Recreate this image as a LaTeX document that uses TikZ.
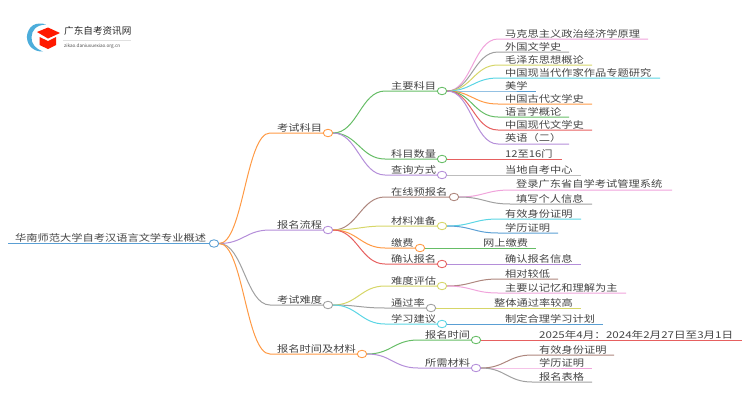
\documentclass[tikz,border=0pt]{standalone}
\usepackage{xcolor}
\usepackage{fontspec}
\setmainfont{Noto Sans CJK SC}
\usepackage{tikz}
\usetikzlibrary{shapes.geometric}
\definecolor{cblue}{HTML}{5A9FD4}
\definecolor{corange}{HTML}{FF9A45}
\definecolor{cgreen}{HTML}{66BD66}
\definecolor{cred}{HTML}{E66060}
\definecolor{cpurple}{HTML}{B48ED9}
\definecolor{cbrown}{HTML}{AD867D}
\definecolor{cpink}{HTML}{F0A3DB}
\definecolor{cgray}{HTML}{A0A0A0}
\definecolor{colive}{HTML}{D6D668}
\definecolor{ccyan}{HTML}{5AD5E4}
\definecolor{ctext}{HTML}{444444}
\tikzset{
    lab/.style={anchor=south west, inner sep=0pt, text=ctext, font=\fontsize{10.4}{11}\selectfont, xscale=1.08, yscale=.9, transform shape},
    dot/.style={draw=#1, fill=white, ellipse, line width=.9pt, minimum width=9.5pt, minimum height=7.5pt, inner sep=0pt},
    wire/.style={draw=#1, line width=1pt},
    sbend/.style={to path={.. controls +(#1,0) and +(-#1,0) .. (\tikztotarget)}},
    sbend/.default=24
}
\begin{document}
\begin{tikzpicture}[x=1pt,y=-1pt]
    \useasboundingbox (0,0) rectangle (750,410);

    % logo
    \fill[cblue!85!cyan] (40.5,23.5) .. controls (28,23) and (26.5,36) .. (27,38) .. controls (27.5,46) and (34,52) .. (43,51.5) .. controls (36,49) and (31,44) .. (31.5,37) .. controls (32,30) and (36,25) .. (46,24.5) .. controls (44,23.7) and (42,23.5) .. (40.5,23.5) -- cycle;
    \fill[red!80!orange] (37,32) -- (48,27.5) -- (60,33) -- (48,38.5) -- cycle;
    \fill[red!80!orange] (39.5,37) -- (48,41) -- (56,37) -- (56,45) -- (48,49) -- (39.5,45) -- cycle;
    \node[anchor=west, inner sep=0pt, text=black!85, font=\fontsize{9.6}{10}\selectfont] (brand) at (64,31) {广东自考资讯网};
    \coordinate (brandl) at (63,40.5);
    \coordinate (brandr) at (131,40.5);
    \draw[black!12, line width=.5pt] (brandl) -- (brandr);
    \node[anchor=west, inner sep=0pt, text=black!70, font=\fontsize{4.6}{5}\selectfont] (site) at (64,46.5) {zikao.daniuxuexiao.org.cn};

    % root
    \node[dot=cblue] (root) at (214,243.5) {};
    \coordinate (roote) at (8,243.5);
    \draw[wire=cblue] (roote) -- (root);
    \node[lab] (roott) at (15,242) {华南师范大学自考汉语言文学专业概述};

    % first level
    \node[dot=corange] (kemu) at (328,133) {};
    \node[dot=cpurple] (liucheng) at (328,230) {};
    \node[dot=cgray] (nandu) at (328,305) {};
    \node[dot=corange] (shijian) at (362,354) {};
    \coordinate (kemus) at (270,133);
    \coordinate (liuchengs) at (270,230);
    \coordinate (nandus) at (270,305);
    \coordinate (shijians) at (270,354);
    \draw[wire=corange] (root.east) to[sbend] (kemus) -- (kemu);
    \draw[wire=cpurple] (root.east) to[sbend] (liuchengs) -- (liucheng);
    \draw[wire=cgray] (root.east) to[sbend] (nandus) -- (nandu);
    \draw[wire=corange] (root.east) to[sbend] (shijians) -- (shijian);
    \node[lab] (kemut) at (277,132) {考试科目};
    \node[lab] (liuchengt) at (277,229) {报名流程};
    \node[lab] (nandut) at (277,304) {考试难度};
    \node[lab] (shijiant) at (277,353) {报名时间及材料};

    % second level
    \node[dot=cgreen] (zhuyao) at (442,91) {};
    \node[dot=cgreen] (shuliang) at (442,159) {};
    \node[dot=cpurple] (chaxun) at (442,175) {};
    \coordinate (zhuyaos) at (385,91);
    \coordinate (shuliangs) at (385,159);
    \coordinate (chaxuns) at (385,175);
    \draw[wire=cgreen] (kemu.east) to[sbend] (zhuyaos) -- (zhuyao);
    \draw[wire=cgreen] (kemu.east) to[sbend] (shuliangs) -- (shuliang);
    \draw[wire=cpurple] (kemu.east) to[sbend] (chaxuns) -- (chaxun);
    \node[lab] (zhuyaot) at (391,90) {主要科目};
    \node[lab] (shuliangt) at (391,158) {科目数量};
    \node[lab] (chaxunt) at (391,174) {查询方式};

    \node[dot=cbrown] (zaixian) at (454,197) {};
    \node[dot=colive] (cailiao) at (442,226) {};
    \node[dot=corange] (jiaofei) at (420,248) {};
    \node[dot=cred] (queren) at (442,264) {};
    \coordinate (zaixians) at (385,197);
    \coordinate (cailiaos) at (385,226);
    \coordinate (jiaofeis) at (385,248);
    \coordinate (querens) at (385,264);
    \draw[wire=cbrown] (liucheng.east) to[sbend] (zaixians) -- (zaixian);
    \draw[wire=colive] (liucheng.east) to[sbend] (cailiaos) -- (cailiao);
    \draw[wire=corange] (liucheng.east) to[sbend] (jiaofeis) -- (jiaofei);
    \draw[wire=cred] (liucheng.east) to[sbend] (querens) -- (queren);
    \node[lab] (zaixiant) at (391,196) {在线预报名};
    \node[lab] (cailiaot) at (391,225) {材料准备};
    \node[lab] (jiaofeit) at (391,247) {缴费};
    \node[lab] (querent) at (391,263) {确认报名};

    \node[dot=colive] (pinggu) at (442,286) {};
    \node[dot=cgray] (tongguo) at (431,308) {};
    \node[dot=ccyan] (jianyi) at (442,324) {};
    \coordinate (pinggus) at (385,286);
    \coordinate (tongguos) at (385,308);
    \coordinate (jianyis) at (385,324);
    \draw[wire=colive] (nandu.east) to[sbend] (pinggus) -- (pinggu);
    \draw[wire=cgray] (nandu.east) to[sbend] (tongguos) -- (tongguo);
    \draw[wire=ccyan] (nandu.east) to[sbend] (jianyis) -- (jianyi);
    \node[lab] (pinggut) at (391,285) {难度评估};
    \node[lab] (tongguot) at (391,307) {通过率};
    \node[lab] (jianyit) at (391,323) {学习建议};

    \node[dot=cgreen] (baoming) at (476,340) {};
    \node[dot=cpurple] (suoxu) at (476,368) {};
    \coordinate (baomings) at (418,340);
    \coordinate (suoxus) at (418,368);
    \draw[wire=cgreen] (shijian.east) to[sbend] (baomings) -- (baoming);
    \draw[wire=cpurple] (shijian.east) to[sbend] (suoxus) -- (suoxu);
    \node[lab] (baomingt) at (425,339) {报名时间};
    \node[lab] (suoxut) at (425,367) {所需材料};

    % leaves of zhuyao
    \coordinate (a1) at (498,39);  \coordinate (a1e) at (648,39);
    \coordinate (a2) at (498,52);  \coordinate (a2e) at (569,52);
    \coordinate (a3) at (498,65);  \coordinate (a3e) at (592,65);
    \coordinate (a4) at (498,78);  \coordinate (a4e) at (660,78);
    \coordinate (a5) at (498,91);  \coordinate (a5e) at (536,91);
    \coordinate (a6) at (498,104); \coordinate (a6e) at (592,104);
    \coordinate (a7) at (498,117); \coordinate (a7e) at (569,117);
    \coordinate (a8) at (498,130); \coordinate (a8e) at (592,130);
    \coordinate (a9) at (498,144); \coordinate (a9e) at (569,144);
    \draw[wire=cpink] (zhuyao.east) to[sbend] (a1) -- (a1e);
    \draw[wire=cgray] (zhuyao.east) to[sbend] (a2) -- (a2e);
    \draw[wire=colive] (zhuyao.east) to[sbend] (a3) -- (a3e);
    \draw[wire=ccyan] (zhuyao.east) to[sbend] (a4) -- (a4e);
    \draw[wire=cblue] (zhuyao.east) -- (a5) -- (a5e);
    \draw[wire=corange] (zhuyao.east) to[sbend] (a6) -- (a6e);
    \draw[wire=cgreen] (zhuyao.east) to[sbend] (a7) -- (a7e);
    \draw[wire=cred] (zhuyao.east) to[sbend] (a8) -- (a8e);
    \draw[wire=cpurple] (zhuyao.east) to[sbend] (a9) -- (a9e);
    \node[lab] (a1t) at (505,38) {马克思主义政治经济学原理};
    \node[lab] (a2t) at (505,51) {外国文学史};
    \node[lab] (a3t) at (505,64) {毛泽东思想概论};
    \node[lab] (a4t) at (505,77) {中国现当代作家作品专题研究};
    \node[lab] (a5t) at (505,90) {美学};
    \node[lab] (a6t) at (505,103) {中国古代文学史};
    \node[lab] (a7t) at (505,116) {语言学概论};
    \node[lab] (a8t) at (505,129) {中国现代文学史};
    \node[lab] (a9t) at (505,143) {英语（二）};

    % single leaves
    \coordinate (b1e) at (562,159);
    \coordinate (b2e) at (581,175);
    \draw[wire=cred] (shuliang) -- (b1e);
    \draw[wire=cgray!70] (chaxun) -- (b2e);
    \node[lab] (b1t) at (505,158) {12至16门};
    \node[lab] (b2t) at (505,174) {当地自考中心};

    % leaves of liucheng
    \coordinate (c1) at (510,190); \coordinate (c1e) at (672,190);
    \coordinate (c2) at (510,204); \coordinate (c2e) at (592,204);
    \draw[wire=cpink] (zaixian.east) to[sbend] (c1) -- (c1e);
    \draw[wire=cgray] (zaixian.east) to[sbend] (c2) -- (c2e);
    \node[lab] (c1t) at (516,189) {登录广东省自学考试管理系统};
    \node[lab] (c2t) at (516,203) {填写个人信息};
    \coordinate (c3) at (498,219); \coordinate (c3e) at (581,219);
    \coordinate (c4) at (498,233); \coordinate (c4e) at (558,233);
    \draw[wire=ccyan] (cailiao.east) to[sbend] (c3) -- (c3e);
    \draw[wire=cblue] (cailiao.east) to[sbend] (c4) -- (c4e);
    \node[lab] (c3t) at (505,218) {有效身份证明};
    \node[lab] (c4t) at (505,232) {学历证明};
    \coordinate (c5e) at (536,248);
    \draw[wire=cgreen] (jiaofei) -- (c5e);
    \node[lab] (c5t) at (483,247) {网上缴费};
    \coordinate (c6e) at (581,264);
    \draw[wire=cpurple] (queren) -- (c6e);
    \node[lab] (c6t) at (505,263) {确认报名信息};

    % leaves of nandu
    \coordinate (d1) at (498,279); \coordinate (d1e) at (558,279);
    \coordinate (d2) at (498,293); \coordinate (d2e) at (626,293);
    \draw[wire=cbrown] (pinggu.east) to[sbend] (d1) -- (d1e);
    \draw[wire=cpink] (pinggu.east) to[sbend] (d2) -- (d2e);
    \node[lab] (d1t) at (505,278) {相对较低};
    \node[lab] (d2t) at (505,292) {主要以记忆和理解为主};
    \coordinate (d3e) at (581,308);
    \draw[wire=colive] (tongguo) -- (d3e);
    \node[lab] (d3t) at (494,307) {整体通过率较高};
    \coordinate (d4e) at (603,324);
    \draw[wire=cblue] (jianyi) -- (d4e);
    \node[lab] (d4t) at (505,323) {制定合理学习计划};

    % leaves of shijian
    \coordinate (e1e) at (742,340);
    \draw[wire=cred] (baoming) -- (e1e);
    \node[lab, xscale=1.03] (e1t) at (539,339) {2025年4月：2024年2月27日至3月1日};
    \coordinate (e2) at (532,355); \coordinate (e2e) at (614,355);
    \coordinate (e3) at (532,368); \coordinate (e3e) at (592,368);
    \coordinate (e4) at (532,382); \coordinate (e4e) at (592,382);
    \draw[wire=cbrown] (suoxu.east) to[sbend] (e2) -- (e2e);
    \draw[wire=cpink] (suoxu.east) -- (e3) -- (e3e);
    \draw[wire=cgray] (suoxu.east) to[sbend] (e4) -- (e4e);
    \node[lab] (e2t) at (539,354) {有效身份证明};
    \node[lab] (e3t) at (539,367) {学历证明};
    \node[lab] (e4t) at (539,381) {报名表格};
\end{tikzpicture}
\end{document}
